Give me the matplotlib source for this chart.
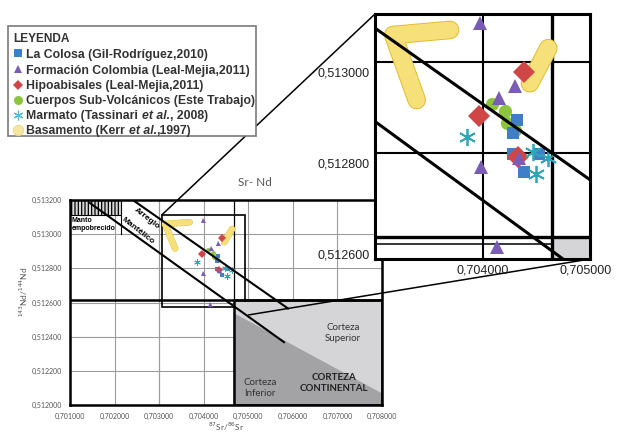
import matplotlib
matplotlib.use('Agg')
import matplotlib.pyplot as plt
from matplotlib.patches import Rectangle, Polygon, ConnectionPatch
import matplotlib.patheffects as pe
import matplotlib.transforms as mtransforms

W, H = 622, 438
plt.rcParams['hatch.linewidth'] = 0.9
plt.rcParams['font.family'] = ['Liberation Sans', 'DejaVu Sans']

# ---------------- data ----------------
x_ticks = [0.701, 0.702, 0.703, 0.704, 0.705, 0.706, 0.707, 0.708]
x_labels = ['0,701000', '0,702000', '0,703000', '0,704000', '0,705000',
            '0,706000', '0,707000', '0,708000']
y_ticks = [0.512, 0.5122, 0.5124, 0.5126, 0.5128, 0.513, 0.5132]
y_labels = ['0,512000', '0,512200', '0,512400', '0,512600', '0,512800',
            '0,513000', '0,513200']
inset_x_ticks = [0.704, 0.705]
inset_x_labels = ['0,704000', '0,705000']
inset_y_ticks = [0.513, 0.5128, 0.5126]
inset_y_labels = ['0,513000', '0,512800', '0,512600']

colosa_x = [0.704330, 0.704291, 0.704297, 0.704550, 0.704401]
colosa_y = [0.512873, 0.512843, 0.512798, 0.512798, 0.512759]
colombia_x = [0.703974, 0.704314, 0.704161, 0.703983, 0.704352, 0.704136]
colombia_y = [0.513085, 0.512947, 0.512920, 0.512770, 0.512788, 0.512594]
hipo_x = [0.704401, 0.703967, 0.704340]
hipo_y = [0.512977, 0.512881, 0.512792]
subvol_x = [0.704087, 0.704217, 0.704233, 0.704314]
subvol_y = [0.512908, 0.512891, 0.512866, 0.512850]
marmato_x = [0.703845, 0.704485, 0.704637, 0.704517]
marmato_y = [0.512835, 0.512803, 0.512788, 0.512754]
basam1_x = [0.703683, 0.703132, 0.703359]
basam1_y = [0.513070, 0.513059, 0.512916]
basam2_x = [0.704637, 0.704459]
basam2_y = [0.513030, 0.512953]

# field boundaries
crust_x = 0.70467
crust_top = 0.512615
dark_y_left = 0.512539
dark_y_right = 0.512068
upper_x = [0.702425, 0.705891]
upper_y = [0.513197, 0.512565]
lower_x = [0.701449, 0.705801]
lower_y = [0.513182, 0.512368]
inset_upper_x = [0.702954, 0.705042]
inset_upper_y = [0.513074, 0.512741]
inset_lower_x = [0.702954, 0.704816]
inset_lower_y = [0.512869, 0.512561]
zoom_x0, zoom_x1, zoom_y0, zoom_y1 = 0.703057, 0.704926, 0.512571, 0.513112
manto_x1, manto_y0 = 0.702144, 0.513112

legend_title = 'LEYENDA'
legend_entries = [
    [('La Colosa (Gil-Rodríguez,2010)', 'normal')],
    [('Formación Colombia (Leal-Mejia,2011)', 'normal')],
    [('Hipoabisales (Leal-Mejia,2011)', 'normal')],
    [('Cuerpos Sub-Volcánicos (Este Trabajo)', 'normal')],
    [('Marmato (Tassinari ', 'normal'), ('et al.', 'italic'), (', 2008)', 'normal')],
    [('Basamento (Kerr ', 'normal'), ('et al.', 'italic'), (',1997)', 'normal')],
]

C_BLUE = '#3f7fc8'
C_PURPLE = '#7a5db3'
C_RED = '#d04546'
C_GREEN = '#8cc43f'
C_CYAN = '#2fa6b8'
C_YEL = '#f6e07a'
C_YEL_E = '#e2bb2c'
C_LIGHT = '#d5d5d7'
C_DARK = '#a3a3a5'


def frac(l, t, r, b):
    return [l / W, 1 - b / H, (r - l) / W, (b - t) / H]


def draw_points(a, scale, band_lw):
    for bx, by in ((basam1_x, basam1_y), (basam2_x, basam2_y)):
        ln, = a.plot(bx, by, color=C_YEL, lw=band_lw, solid_capstyle='round',
                     solid_joinstyle='round', zorder=3)
        ln.set_path_effects([pe.Stroke(linewidth=band_lw + 1.3 * scale / 9, foreground=C_YEL_E),
                             pe.Normal()])
    a.plot(subvol_x, subvol_y, 'o', color=C_GREEN, ms=scale, mew=0, zorder=3.1)
    a.plot(colosa_x, colosa_y, 's', color=C_BLUE, ms=scale * 0.95, mew=0, zorder=3.2)
    a.plot(hipo_x, hipo_y, 'D', color=C_RED, ms=scale * 1.2, mew=0, zorder=3.3)
    a.plot(colombia_x, colombia_y, '^', color=C_PURPLE, ms=scale, mew=0, zorder=3.4)
    a.plot(marmato_x, marmato_y, marker=(6, 2, 0), ls='none', color=C_CYAN,
           ms=scale * 1.3, mew=max(0.6, scale / 7.5), zorder=3.5)


fig = plt.figure(figsize=(W / 100, H / 100), dpi=100)

# ---------------- main chart ----------------
ax = fig.add_axes(frac(70, 200, 382, 405))
ax.set_xlim(x_ticks[0], x_ticks[-1])
ax.set_ylim(y_ticks[0], y_ticks[-1])
ax.set_xticks(x_ticks)
ax.set_xticklabels(x_labels, family='Lato', fontsize=5, color='#555555')
ax.set_yticks(y_ticks)
ax.set_yticklabels(y_labels, family='Lato', fontsize=5, color='#555555')
ax.tick_params(length=0)
ax.tick_params(axis='x', pad=6)
ax.tick_params(axis='y', pad=5.5)
ax.set_axisbelow(True)
ax.grid(color='#9c9c9c', lw=0.8)
for s in ax.spines.values():
    s.set_linewidth(1.8)
ax.axvline(0.703, color='#9c9c9c', lw=0.8, zorder=0.5)

# crust
ax.add_patch(Rectangle((crust_x, y_ticks[0]), x_ticks[-1] - crust_x, crust_top - y_ticks[0],
                       fc=C_LIGHT, ec='none', zorder=2))
ax.add_patch(Polygon([(crust_x, dark_y_left), (x_ticks[-1], dark_y_right),
                      (x_ticks[-1], y_ticks[0]), (crust_x, y_ticks[0])],
                     closed=True, fc=C_DARK, ec='none', zorder=2.05))
ax.add_patch(Rectangle((crust_x, y_ticks[0]), x_ticks[-1] - crust_x, crust_top - y_ticks[0],
                       fill=False, ec='black', lw=1.8, zorder=2.1))
ax.axhline(crust_top, color='black', lw=1.8, zorder=2.2)
ax.plot([crust_x, crust_x], [crust_top, y_ticks[-1]], color='black', lw=0.9, zorder=2.2)

# zoom box
ax.add_patch(Rectangle((zoom_x0, zoom_y0), zoom_x1 - zoom_x0, zoom_y1 - zoom_y0,
                       fill=False, ec='black', lw=1.2, zorder=1.9))

# manto empobrecido
ax.add_patch(Rectangle((x_ticks[0], manto_y0), manto_x1 - x_ticks[0], y_ticks[-1] - manto_y0,
                       fc='#d8d8d8', ec='black', hatch='|||||', lw=0.8, zorder=2))
ax.plot([manto_x1, manto_x1], [0.513, manto_y0], color='black', lw=0.8, zorder=2)

# arreglo mantelico lines
ax.plot(upper_x, upper_y, color='black', lw=1.5, zorder=4)
ax.plot(lower_x, lower_y, color='black', lw=1.5, zorder=4)

draw_points(ax, 3.6, 4.2)

# ---------------- inset ----------------
axin = fig.add_axes(frac(375, 14, 590, 259), zorder=5)
axin.set_xlim(inset_upper_x[0], inset_upper_x[1])
axin.set_ylim(0.512567, 0.513105)
axin.set_xticks(inset_x_ticks)
axin.set_xticklabels(inset_x_labels, fontsize=9, color='#222222')
axin.set_yticks(inset_y_ticks)
axin.set_yticklabels(inset_y_labels, fontsize=9, color='#222222')
axin.tick_params(length=0)
axin.tick_params(axis='x', pad=4)
axin.tick_params(axis='y', pad=4)
off = mtransforms.ScaledTranslation(0, -0.10, fig.dpi_scale_trans)
for lab in axin.get_yticklabels():
    lab.set_transform(lab.get_transform() + off)
for s in axin.spines.values():
    s.set_linewidth(2.2)
axin.add_patch(Rectangle((crust_x, 0.5125), 0.0006, crust_top - 0.5125,
                         fc=C_LIGHT, ec='none', zorder=1))
axin.axvline(0.704, color='black', lw=1.5, zorder=1.5)
axin.axhline(0.513, color='black', lw=1.5, zorder=1.5)
axin.axhline(0.5128, color='black', lw=1.5, zorder=1.5)
axin.plot([inset_upper_x[0], crust_x], [0.5126, 0.5126], color='black', lw=1.1, zorder=1.5)
axin.axhline(crust_top, color='black', lw=2.4, zorder=1.6)
axin.axvline(crust_x, color='black', lw=2.4, zorder=1.6)
axin.plot(inset_upper_x, inset_upper_y, color='black', lw=2.2, zorder=4)
axin.plot(inset_lower_x, inset_lower_y, color='black', lw=2.2, zorder=4)
draw_points(axin, 9.5, 12)

# connectors
for (xa, ya), (xb, yb) in (((zoom_x0, zoom_y1), (0, 1)), ((x_ticks[4], 0.512527), (1, 0))):
    con = ConnectionPatch(xyA=(xa, ya), coordsA=ax.transData, xyB=(xb, yb),
                          coordsB=axin.transAxes, color='black', lw=1.1)
    fig.add_artist(con)

# ---------------- overlay (texts, legend) ----------------
ov = fig.add_axes([0, 0, 1, 1], zorder=10)
ov.set_xlim(0, W)
ov.set_ylim(H, 0)
ov.axis('off')

ov.text(255, 183, 'Sr- Nd', family='Lato', fontsize=8.5, color='#555555', ha='center', va='center')
ov.text(226, 427, r'$^{87}$Sr/$^{86}$Sr', family='Lato', fontsize=6, color='#555555',
        ha='center', va='center')
ov.text(24, 292, r'$^{143}$Nd/$^{144}$Nd', family='Lato', fontsize=6, color='#555555',
        ha='center', va='center', rotation=90)

ov.text(343, 333, 'Corteza\nSuperior', family='Lato', fontsize=7, color='#333333',
        ha='center', va='center', linespacing=1.25)
ov.text(334, 383, 'CORTEZA\nCONTINENTAL', family='Lato', fontsize=7, fontweight='bold',
        color='#222222', ha='center', va='center', linespacing=1.25)
ov.text(260, 388, 'Corteza\nInferior', family='Lato', fontsize=7, color='#333333',
        ha='center', va='center', linespacing=1.25)
ov.text(146.7, 219, 'Arreglo', fontsize=6, fontweight='bold', rotation=-38,
        ha='center', va='center', rotation_mode='anchor')
ov.text(138.3, 230.7, 'Mantélico', fontsize=6, fontweight='bold', rotation=-38,
        ha='center', va='center', rotation_mode='anchor')
ov.text(72, 220, 'Manto', fontsize=5, fontweight='bold', ha='left', va='center')
ov.text(72, 228.5, 'empobrecido', fontsize=5, fontweight='bold', ha='left', va='center')

# legend
ov.add_patch(Rectangle((8, 26), 248, 110, fc='white', ec='#7a7a7a', lw=1.2, zorder=5))
ov.text(13, 37, legend_title, fontsize=8.6, fontweight='bold', color='#333333',
        va='center_baseline', ha='left', zorder=6)
rend = fig.canvas.get_renderer()
probe1 = ov.text(0, 0, 'a a', fontsize=8.8, fontweight='bold')
probe2 = ov.text(0, 0, 'aa', fontsize=8.8, fontweight='bold')
space_w = probe1.get_window_extent(rend).width - probe2.get_window_extent(rend).width
probe1.remove()
probe2.remove()
row_y = [53.3, 69.3, 84.5, 99.5, 114.5, 129.5]
for yy, segs in zip(row_y, legend_entries):
    xx = 26.5
    for s, st in segs:
        core = s.rstrip()
        t = ov.text(xx, yy, core, fontsize=8.8, fontweight='bold', fontstyle=st,
                    color='#333333', ha='left', va='center_baseline', zorder=6)
        xx += t.get_window_extent(rend).width + (len(s) - len(core)) * space_w
mk = dict(zorder=6, ls='none')
ov.plot(18, row_y[0], 's', color=C_BLUE, ms=5.5, mew=0, **mk)
ov.plot(18, row_y[1], '^', color=C_PURPLE, ms=6, mew=0, **mk)
ov.plot(18, row_y[2], 'D', color=C_RED, ms=5, mew=0, **mk)
ov.plot(18, row_y[3], 'o', color=C_GREEN, ms=6.5, mew=0, **mk)
ov.plot(18, row_y[4], marker=(6, 2, 0), color='#5fb8d8', ms=7, mew=0.9, **mk)
ov.plot(18, row_y[5], 'o', color='#f7e6a0', mec='#ecd68a', ms=7.5, mew=0.6, **mk)

fig.savefig('out.png', dpi=100)
